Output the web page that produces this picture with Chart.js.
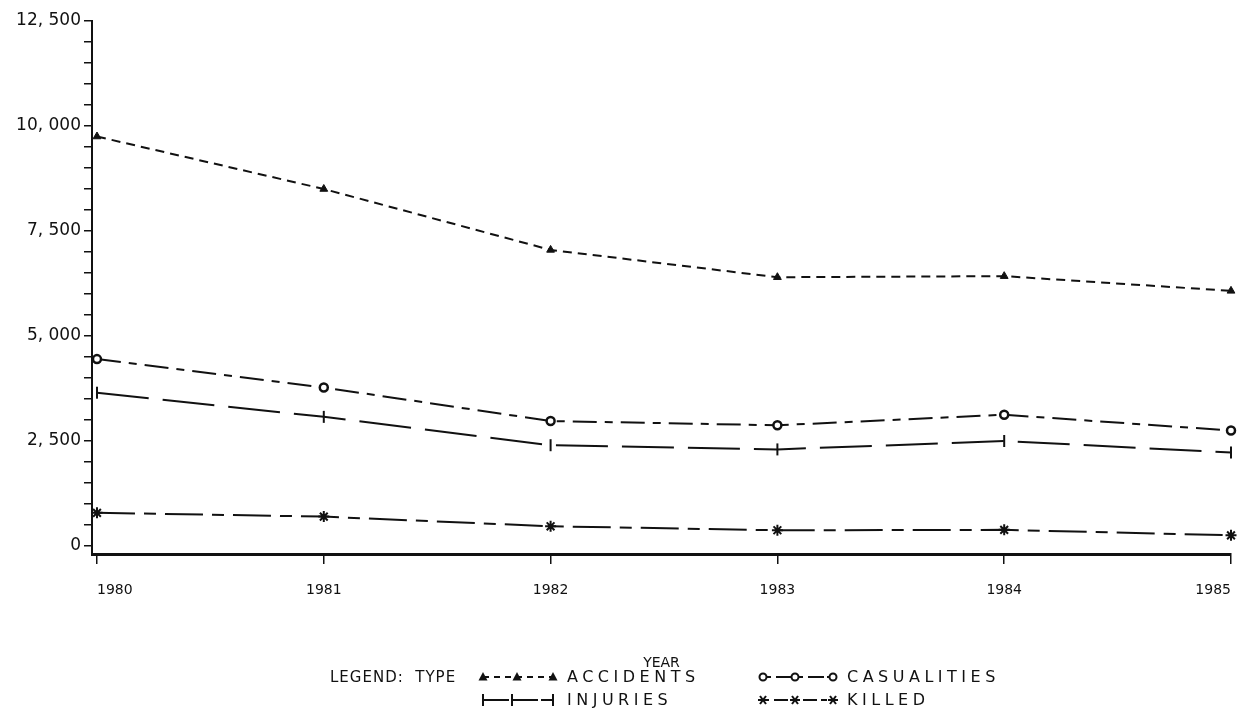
<!DOCTYPE html>
<html>
<head>
<meta charset="utf-8">
<script src="https://cdn.jsdelivr.net/npm/chart.js@4.4.1/dist/chart.umd.min.js"></script>
<style>
  html, body { margin: 0; padding: 0; background: #fff; }
  #wrap { position: relative; width: 1239px; height: 711px; }
  #chart { position: absolute; left: 0; top: 0; }
  .lg { position: absolute; font-family: "DejaVu Sans", sans-serif; font-size: 16px; color: #111; white-space: pre; line-height: 18px; }
  .item { letter-spacing: 4.5px; }
  .icon { position: absolute; }
</style>
</head>
<body>
<div id="wrap">
  <canvas id="chart" width="1239" height="711"></canvas>
  <div id="legend"></div>
</div>
<script>
// ─── Data ─────────────────────────────────────────────────────────────────────

const years = [1980, 1981, 1982, 1983, 1984, 1985];
const accidents = [9750, 8500, 7050, 6400, 6425, 6075];
const casualities = [4450, 3775, 2975, 2875, 3125, 2750];
const injuries = [3650, 3075, 2400, 2300, 2500, 2225];
const killed = [790, 700, 470, 375, 385, 255];

const yMajorValues = [0, 2500, 5000, 7500, 10000, 12500];
const yMajorLabels = ["0", "2, 500", "5, 000", "7, 500", "10, 000", "12, 500"];
const yMinorStep = 500;

// ─── Series styles ────────────────────────────────────────────────────────────

const series = [
  { label: "ACCIDENTS", data: accidents, dash: [9, 6], marker: "triangle" },
  { label: "CASUALITIES", data: casualities, dash: [24, 8, 8, 8], marker: "circle" },
  { label: "INJURIES", data: injuries, dash: [52, 14], marker: "bar" },
  { label: "KILLED", data: killed, dash: [38, 9, 12, 9], marker: "star" },
];

function pointOpts(marker) {
  if (marker === "triangle") return { pointStyle: "triangle", pointRadius: 4.5, pointBackgroundColor: "#111", pointBorderWidth: 1 };
  if (marker === "circle") return { pointStyle: "circle", pointRadius: 4, pointBackgroundColor: "#fff", pointBorderWidth: 2.5 };
  if (marker === "bar") return { pointStyle: "line", pointRotation: 90, pointRadius: 6, pointBorderWidth: 2 };
  return { pointStyle: "star", pointRadius: 5.5, pointBorderWidth: 2 };
}

const datasets = series.map((s) => ({
  label: s.label,
  data: years.map((y, i) => ({ x: y, y: s.data[i] })),
  borderColor: "#111",
  borderWidth: 2,
  borderDash: s.dash,
  pointBorderColor: "#111",
  tension: 0,
  clip: false,
  ...pointOpts(s.marker),
}));

// ─── Chart ────────────────────────────────────────────────────────────────────

const FONT = "'DejaVu Sans', sans-serif";

new Chart(document.getElementById("chart"), {
  type: "line",
  data: { datasets },
  options: {
    responsive: false,
    animation: false,
    layout: { padding: { top: 21, right: 8, bottom: 0, left: 0 } },
    plugins: { legend: { display: false }, tooltip: { enabled: false } },
    scales: {
      x: {
        type: "linear",
        min: 1979.978,
        max: 1985,
        afterBuildTicks: (scale) => { scale.ticks = years.map((v) => ({ value: v })); },
        afterFit: (scale) => {
          scale.height = 157;
          // labels are aligned "inner", no extra side padding wanted
          scale.paddingLeft = 0;
          scale.paddingRight = 0;
        },
        border: { display: true, color: "#111", width: 3 },
        grid: { display: true, drawOnChartArea: false, drawTicks: true, tickLength: 10, color: "#111", lineWidth: 1.5 },
        ticks: {
          align: "inner",
          autoSkip: false,
          maxRotation: 0,
          padding: 18,
          color: "#111",
          font: { family: FONT, size: 14 },
          callback: (v) => String(v),
        },
        title: {
          display: true,
          text: "YEAR",
          color: "#111",
          font: { family: FONT, size: 14 },
          padding: { top: 0, bottom: 39 },
        },
      },
      y: {
        min: -190,
        max: 12500,
        afterBuildTicks: (scale) => {
          const t = [];
          for (let v = 0; v <= 12500; v += yMinorStep) t.push({ value: v });
          scale.ticks = t;
        },
        afterFit: (scale) => { scale.width = 92; },
        border: { display: true, color: "#111", width: 2 },
        grid: { display: true, drawOnChartArea: false, drawTicks: true, tickLength: 8, color: "#111", lineWidth: 1.5 },
        ticks: {
          autoSkip: false,
          padding: 3,
          color: "#111",
          font: { family: FONT, size: 17 },
          callback: (v) => {
            const i = yMajorValues.indexOf(v);
            return i >= 0 ? yMajorLabels[i] : "";
          },
        },
      },
    },
  },
});

// ─── Legend (HTML) ────────────────────────────────────────────────────────────

function markerSvg(marker, x, y) {
  if (marker === "triangle") return `<polygon points="${x},${y - 5} ${x - 4.5},${y + 3.5} ${x + 4.5},${y + 3.5}" fill="#111"/>`;
  if (marker === "circle") return `<circle cx="${x}" cy="${y}" r="3.5" fill="#fff" stroke="#111" stroke-width="2"/>`;
  if (marker === "bar") return `<line x1="${x}" y1="${y - 6}" x2="${x}" y2="${y + 6}" stroke="#111" stroke-width="2"/>`;
  return `<g stroke="#111" stroke-width="2"><line x1="${x - 5}" y1="${y}" x2="${x + 5}" y2="${y}"/><line x1="${x - 3}" y1="${y - 4}" x2="${x + 3}" y2="${y + 4}"/><line x1="${x - 3}" y1="${y + 4}" x2="${x + 3}" y2="${y - 4}"/></g>`;
}

const legendSlots = [
  { left: 478, top: 668 },
  { left: 758, top: 668 },
  { left: 478, top: 691 },
  { left: 758, top: 691 },
];
const legendDash = ["6,5", "8,5,16,3", "26,3", "6,5,14,4"];
const legendMarks = [[5, 39, 75], [5, 37, 75], [5, 34, 75], [5, 37, 75]];

let html = `<span class="lg" style="left:330px;top:668px;letter-spacing:1px;font-size:15px">LEGEND:  TYPE</span>`;
series.forEach((s, i) => {
  const slot = legendSlots[i];
  const marks = legendMarks[i].map((mx) => markerSvg(s.marker, mx, 9)).join("");
  html += `<svg class="icon" style="left:${slot.left}px;top:${slot.top}px" width="82" height="18">` +
    `<line x1="5" y1="9" x2="75" y2="9" stroke="#111" stroke-width="1.8" stroke-dasharray="${legendDash[i]}"/>${marks}</svg>`;
  html += `<span class="lg item" style="left:${slot.left + 89}px;top:${slot.top}px">${s.label}</span>`;
});
document.getElementById("legend").innerHTML = html;
</script>
</body>
</html>
